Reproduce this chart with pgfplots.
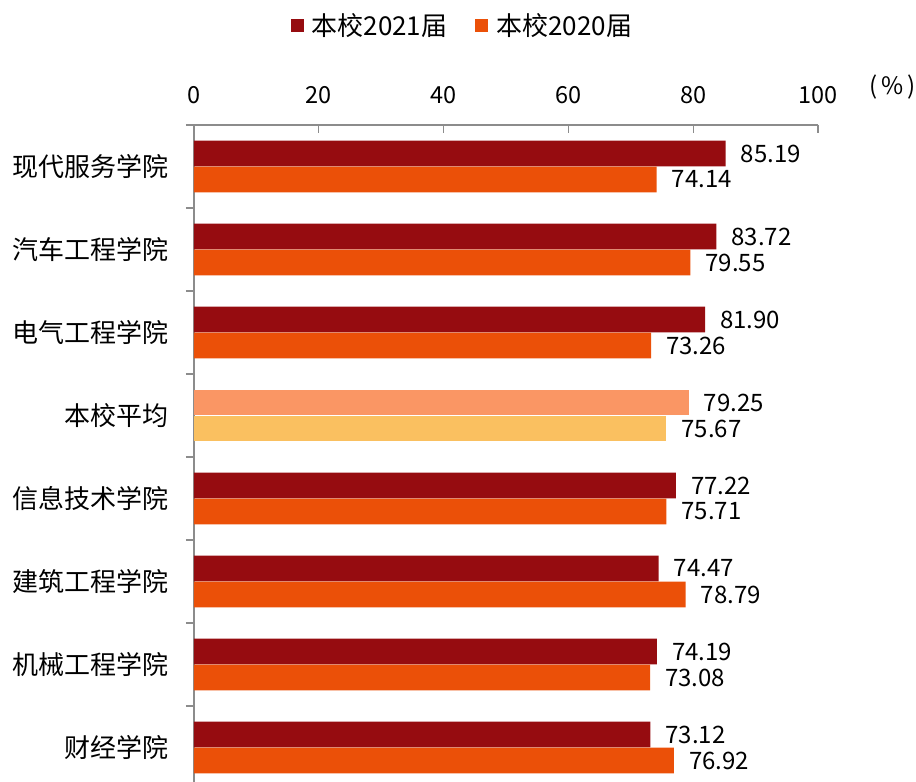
\documentclass[border=0pt]{standalone}
\usepackage{pgfplots}
\pgfplotsset{compat=1.18}
\usepackage{fontspec}
\setmainfont{Noto Sans CJK SC}
\definecolor{c21}{HTML}{960C10}
\definecolor{c20}{HTML}{EB5008}
\definecolor{a21}{HTML}{FA9664}
\definecolor{a20}{HTML}{FAC060}
\definecolor{axgray}{HTML}{8C8C8C}
\begin{document}
\begin{tikzpicture}
\useasboundingbox (-194pt,0pt) rectangle (722pt,782pt);
\begin{axis}[
  at={(0pt,0pt)}, anchor=south west,
  scale only axis, width=624pt, height=657pt,
  xmin=0, xmax=100, ymin=-0.415, ymax=7.5,
  axis x line*=top, axis y line*=left,
  axis line style={-, draw=axgray, line width=1.2pt},
  tick align=inside,
  major tick length=8pt,
  tick style={draw=axgray, line width=1.2pt},
  xtick={0,20,...,100},
  xticklabel style={font=\fontsize{23.5pt}{27pt}\selectfont, yshift=18pt},
  /pgf/number format/assume math mode=true,
  ytick={-0.5,0.5,...,7.5},
  yticklabels={},
  extra y ticks={0,1,2,3,4,5,6,7},
  extra y tick labels={财经学院,机械工程学院,建筑工程学院,信息技术学院,本校平均,电气工程学院,汽车工程学院,现代服务学院},
  extra y tick style={major tick length=0pt},
  yticklabel style={font=\fontsize{26pt}{30pt}\selectfont, xshift=-22pt},
  xbar, bar width=0.31,
  clip=false,
  nodes near coords,
  nodes near coords align={horizontal},
  every node near coord/.append style={font=\fontsize{24pt}{28pt}\selectfont, text=black, anchor=west, inner sep=0pt, xshift=15pt,
    /pgf/number format/fixed, /pgf/number format/precision=2, /pgf/number format/fixed zerofill, /pgf/number format/assume math mode=true},
  legend style={draw=none, at={(0.43,1.152)}, anchor=center, legend columns=2,
    font=\fontsize{26pt}{30pt}\selectfont,
    /tikz/every even column/.append style={column sep=26pt}},
  legend image code/.code={\fill[#1] (0pt,-6.5pt) rectangle (13pt,6.5pt); \path (19pt,0pt);},
]
\addplot[fill=c21, draw=none, bar shift=0.157] coordinates {
  (73.12,0) (74.19,1) (74.47,2) (77.22,3) (81.90,5) (83.72,6) (85.19,7)};
\addlegendentry{本校2021届}
\addplot[fill=c20, draw=none, bar shift=-0.157] coordinates {
  (76.92,0) (73.08,1) (78.79,2) (75.71,3) (73.26,5) (79.55,6) (74.14,7)};
\addlegendentry{本校2020届}
\addplot[fill=a21, draw=none, bar shift=0.157, forget plot] coordinates {(79.25,4)};
\addplot[fill=a20, draw=none, bar shift=-0.157, forget plot] coordinates {(75.67,4)};
\node[anchor=west, inner sep=0pt, font=\fontsize{24pt}{28pt}\selectfont] at (rel axis cs:1,1) [xshift=51pt, yshift=38pt] {(\,\%\,)};
\end{axis}
\end{tikzpicture}
\end{document}
